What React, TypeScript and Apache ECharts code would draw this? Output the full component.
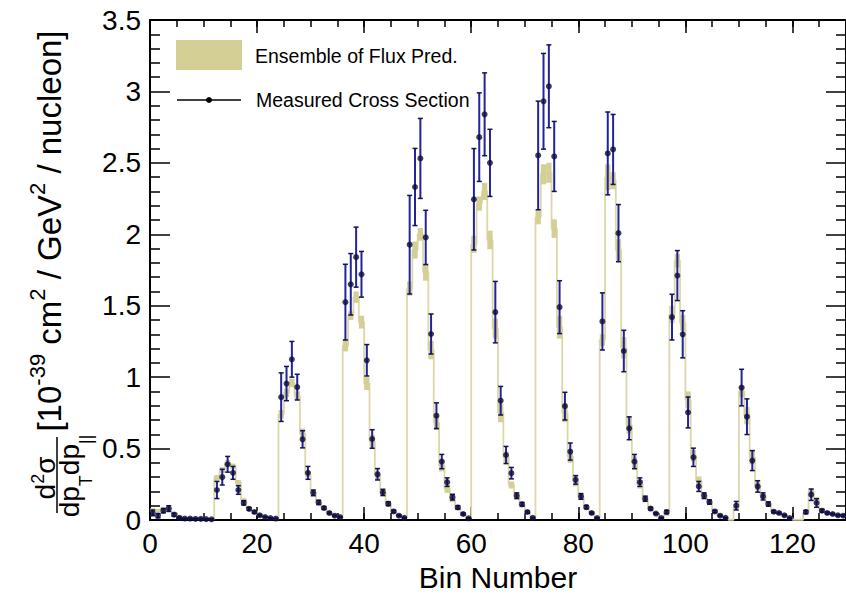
import React, { useEffect, useRef } from "react";
import * as echarts from "echarts";

// ---------------- data ----------------
const binCount = 130;

// Ensemble of flux predictions: central value per bin
const predCentral: number[] = [
  0.07, 0.065, 0.08, 0.08, 0.05, 0.025, 0.015, 0.012, 0.01, 0.008, 0.007, 0.006,
  0.295, 0.35, 0.4, 0.375, 0.26, 0.14, 0.085, 0.06, 0.035, 0.022, 0.015, 0.01,
  0.74, 0.89, 0.96, 0.87, 0.605, 0.32, 0.19, 0.12, 0.08, 0.05, 0.03, 0.018,
  1.22, 1.43, 1.56, 1.385, 0.955, 0.55, 0.31, 0.19, 0.115, 0.065, 0.035, 0.018,
  1.62, 1.89, 2.0, 1.735, 1.19, 0.68, 0.38, 0.22, 0.14, 0.08, 0.04, 0.015,
  1.93, 2.215, 2.3, 1.96, 1.34, 0.75, 0.44, 0.245, 0.16, 0.1, 0.05, 0.015,
  2.12, 2.42, 2.43, 2.04, 1.35, 0.75, 0.445, 0.275, 0.16, 0.095, 0.05, 0.015,
  1.26, 2.4, 2.375, 1.89, 1.205, 0.665, 0.4, 0.25, 0.14, 0.08, 0.045, 0.015,
  0.05, 1.44, 1.815, 1.38, 0.84, 0.45, 0.275, 0.17, 0.12, 0.06, 0.03, 0.015, 0.003,
  0.09, 0.9, 0.73, 0.44, 0.24, 0.17, 0.11, 0.06, 0.048, 0.032, 0.015, 0.003, 0.003,
  0.05, 0.2, 0.14, 0.07, 0.05, 0.042, 0.034, 0.03,
];

// Ensemble spread: half-height of the band per bin
const predHalfWidth: number[] = [
  0.012, 0.012, 0.012, 0.012, 0.008, 0.005, 0.003, 0.003, 0.002, 0.002, 0.002, 0.002,
  0.02, 0.02, 0.02, 0.02, 0.02, 0.012, 0.008, 0.006, 0.004, 0.003, 0.002, 0.002,
  0.03, 0.03, 0.03, 0.03, 0.035, 0.02, 0.015, 0.01, 0.008, 0.005, 0.004, 0.003,
  0.04, 0.03, 0.04, 0.045, 0.045, 0.045, 0.03, 0.02, 0.012, 0.008, 0.005, 0.003,
  0.05, 0.06, 0.045, 0.06, 0.065, 0.05, 0.04, 0.03, 0.015, 0.01, 0.006, 0.003,
  0.06, 0.05, 0.06, 0.065, 0.07, 0.065, 0.04, 0.025, 0.015, 0.01, 0.006, 0.003,
  0.05, 0.07, 0.07, 0.065, 0.08, 0.065, 0.045, 0.04, 0.02, 0.01, 0.006, 0.003,
  0.04, 0.09, 0.06, 0.075, 0.075, 0.06, 0.045, 0.03, 0.015, 0.01, 0.006, 0.003,
  0.02, 0.06, 0.047, 0.055, 0.06, 0.04, 0.03, 0.02, 0.012, 0.008, 0.004, 0.003, 0.001,
  0.02, 0.04, 0.06, 0.05, 0.03, 0.02, 0.012, 0.008, 0.006, 0.004, 0.003, 0.001, 0.001,
  0.01, 0.02, 0.02, 0.01, 0.006, 0.005, 0.004, 0.004,
];

// Measured cross section per bin (null: no point drawn)
const measValue: (number | null)[] = [
  0.05, 0.03, 0.065, 0.08, 0.037, 0.015, 0.01, 0.01, 0.008, 0.008, 0.006, 0.005,
  0.21, 0.3, 0.39, 0.33, 0.21, 0.12, 0.078, 0.056, 0.033, 0.021, 0.014, 0.01,
  0.86, 0.955, 1.125, 0.93, 0.565, 0.33, 0.19, 0.123, 0.084, 0.049, 0.03, 0.02,
  1.525, 1.65, 1.84, 1.72, 1.118, 0.567, 0.32, 0.193, 0.114, 0.06, 0.03, 0.015,
  1.927, 2.331, 2.531, 1.978, 1.302, 0.73, 0.409, 0.265, 0.16, 0.088, 0.042, 0.012,
  2.245, 2.68, 2.84, 2.5, 1.455, 0.835, 0.455, 0.328, 0.17, 0.11, 0.056, 0.015,
  2.552, 2.931, 3.036, 2.545, 1.49, 0.797, 0.479, 0.281, 0.165, 0.09, 0.049, 0.014,
  1.39, 2.566, 2.594, 2.008, 1.183, 0.642, 0.409, 0.265, 0.149, 0.08, 0.045, 0.014,
  0.056, 1.42, 1.711, 1.3, 0.753, 0.439, 0.235, 0.17, 0.126, 0.06, 0.03, 0.015, null,
  0.1, 0.927, 0.723, 0.416, 0.235, 0.165, 0.112, 0.058, 0.049, 0.033, 0.014, null, null,
  0.056, 0.177, 0.119, 0.065, 0.049, 0.042, 0.033, 0.03,
];

// Measured uncertainty per bin
const measError: (number | null)[] = [
  0.02, 0.015, 0.015, 0.02, 0.01, 0.006, 0.004, 0.004, 0.004, 0.004, 0.003, 0.003,
  0.06, 0.055, 0.055, 0.045, 0.03, 0.015, 0.01, 0.008, 0.006, 0.004, 0.003, 0.003,
  0.17, 0.12, 0.125, 0.09, 0.06, 0.045, 0.02, 0.015, 0.01, 0.007, 0.005, 0.004,
  0.265, 0.215, 0.21, 0.16, 0.11, 0.065, 0.04, 0.022, 0.014, 0.008, 0.005, 0.004,
  0.345, 0.27, 0.28, 0.19, 0.14, 0.09, 0.05, 0.03, 0.02, 0.012, 0.007, 0.004,
  0.355, 0.31, 0.29, 0.235, 0.215, 0.1, 0.06, 0.04, 0.02, 0.013, 0.008, 0.004,
  0.38, 0.335, 0.29, 0.245, 0.185, 0.097, 0.06, 0.03, 0.02, 0.012, 0.007, 0.004,
  0.2, 0.29, 0.245, 0.2, 0.145, 0.08, 0.05, 0.03, 0.018, 0.01, 0.006, 0.004,
  0.012, 0.16, 0.175, 0.165, 0.108, 0.064, 0.035, 0.02, 0.015, 0.008, 0.005, 0.004, null,
  0.03, 0.128, 0.125, 0.07, 0.04, 0.025, 0.015, 0.008, 0.006, 0.005, 0.004, null, null,
  0.012, 0.04, 0.03, 0.01, 0.007, 0.006, 0.005, 0.005,
];

const xMax = 130;
const xMajorStep = 20;
const xMinorStep = 5;
const yMax = 3.5;
const yMajorStep = 0.5;

const legendBandLabel = "Ensemble of Flux Pred.";
const legendDataLabel = "Measured Cross Section";
const xTitle = "Bin Number";

// ---------------- styles ----------------
const FONT = "'Liberation Sans', Arial, Helvetica, sans-serif";
const BAND = "#d4cf95";
const HIST_LINE = "#dcd8aa";
const ERR = "#23239a";
const CAP = "#14144e";
const MARK = "#0d0d3d";

export default function App() {
  const ref = useRef<HTMLDivElement>(null);

  useEffect(() => {
    if (!ref.current) return;
    const chart = echarts.init(ref.current, undefined, { renderer: "svg" });

    const stepData: number[][] = predCentral.map((p, i) => [i, p]);
    stepData.push([binCount, predCentral[binCount - 1]]);

    const bandData = predCentral.map((p, i) => [i, i + 1, p - predHalfWidth[i], p + predHalfWidth[i]]);

    const errData: number[][] = [];
    const pointData: number[][] = [];
    measValue.forEach((m, i) => {
      if (m == null) return;
      const e = measError[i] ?? 0;
      errData.push([i + 0.5, m - e, m + e]);
      pointData.push([i + 0.5, m]);
    });

    const axisLine = { show: true, onZero: false, lineStyle: { color: "#000", width: 2 } };
    const tickStyle = { color: "#000", width: 1.5 };

    const option: any = {
      animation: false,
      backgroundColor: "#fff",
      grid: { left: 150, right: -2, top: 20, bottom: 75, containLabel: false },
      xAxis: [
        {
          type: "value", position: "bottom", min: 0, max: xMax, interval: xMajorStep,
          axisLine, axisTick: { show: true, inside: true, length: 13, lineStyle: tickStyle },
          axisLabel: { fontSize: 28, color: "#000", fontFamily: FONT, margin: 9, showMaxLabel: false },
          splitLine: { show: false },
          name: xTitle, nameLocation: "middle", nameGap: 42,
          nameTextStyle: { fontSize: 30, color: "#000", fontFamily: FONT },
        },
        {
          type: "value", position: "bottom", min: 0, max: xMax, interval: xMinorStep,
          axisLine: { show: false, onZero: false }, axisTick: { show: true, inside: true, length: 7, lineStyle: tickStyle },
          axisLabel: { show: false }, splitLine: { show: false },
        },
        {
          type: "value", position: "top", min: 0, max: xMax, interval: xMajorStep,
          axisLine, axisTick: { show: true, inside: true, length: 13, lineStyle: tickStyle },
          axisLabel: { show: false }, splitLine: { show: false },
        },
        {
          type: "value", position: "top", min: 0, max: xMax, interval: xMinorStep,
          axisLine: { show: false, onZero: false }, axisTick: { show: true, inside: true, length: 7, lineStyle: tickStyle },
          axisLabel: { show: false }, splitLine: { show: false },
        },
      ],
      yAxis: [
        {
          type: "value", position: "left", min: 0, max: yMax, interval: yMajorStep,
          axisLine, axisTick: { show: true, inside: true, length: 20, lineStyle: tickStyle },
          minorTick: { show: true, splitNumber: 5, length: 10, lineStyle: tickStyle },
          axisLabel: { fontSize: 28, color: "#000", fontFamily: FONT, margin: 9 },
          splitLine: { show: false }, minorSplitLine: { show: false },
        },
        {
          type: "value", position: "right", min: 0, max: yMax, interval: yMajorStep,
          axisLine, axisTick: { show: true, inside: true, length: 20, lineStyle: tickStyle },
          minorTick: { show: true, splitNumber: 5, length: 10, lineStyle: tickStyle },
          axisLabel: { show: false }, splitLine: { show: false }, minorSplitLine: { show: false },
        },
      ],
      series: [
        {
          name: "histogram", type: "line", step: "end", xAxisIndex: 0, yAxisIndex: 0,
          data: stepData, symbol: "none", showSymbol: false,
          lineStyle: { color: HIST_LINE, width: 1.8 }, z: 1, silent: true,
        },
        {
          name: legendBandLabel, type: "custom", xAxisIndex: 0, yAxisIndex: 0,
          data: bandData, z: 2, silent: true,
          renderItem: (_p: any, api: any) => {
            const a = api.coord([api.value(0), api.value(3)]);
            const b = api.coord([api.value(1), api.value(2)]);
            return {
              type: "rect",
              shape: { x: a[0], y: a[1], width: b[0] - a[0], height: Math.max(b[1] - a[1], 1) },
              style: { fill: BAND },
            };
          },
        },
        {
          name: "errors", type: "custom", xAxisIndex: 0, yAxisIndex: 0,
          data: errData, z: 3, silent: true,
          renderItem: (_p: any, api: any) => {
            const top = api.coord([api.value(0), api.value(2)]);
            const bot = api.coord([api.value(0), api.value(1)]);
            const c = 2.5;
            return {
              type: "group",
              children: [
                { type: "line", shape: { x1: top[0], y1: top[1], x2: bot[0], y2: bot[1] }, style: { stroke: ERR, lineWidth: 2 } },
                { type: "line", shape: { x1: top[0] - c, y1: top[1], x2: top[0] + c, y2: top[1] }, style: { stroke: CAP, lineWidth: 1.5 } },
                { type: "line", shape: { x1: bot[0] - c, y1: bot[1], x2: bot[0] + c, y2: bot[1] }, style: { stroke: CAP, lineWidth: 1.5 } },
              ],
            };
          },
        },
        {
          name: legendDataLabel, type: "scatter", xAxisIndex: 0, yAxisIndex: 0,
          data: pointData, symbol: "circle", symbolSize: 6,
          itemStyle: { color: MARK }, z: 4, silent: true,
        },
      ],
      graphic: [
        // legend
        { type: "rect", shape: { x: 176, y: 40, width: 66, height: 30 }, style: { fill: BAND }, z: 10 },
        {
          type: "text", x: 255, y: 56, z: 10,
          style: { text: legendBandLabel, fontSize: 19.5, fontFamily: FONT, fill: "#000", textVerticalAlign: "middle", verticalAlign: "middle" },
        },
        { type: "line", shape: { x1: 177, y1: 100, x2: 241, y2: 100 }, style: { stroke: "#000", lineWidth: 1.5 }, z: 10 },
        { type: "circle", shape: { cx: 209, cy: 100, r: 3 }, style: { fill: "#000" }, z: 10 },
        {
          type: "text", x: 256, y: 100, z: 10,
          style: { text: legendDataLabel, fontSize: 19.5, fontFamily: FONT, fill: "#000", textVerticalAlign: "middle", verticalAlign: "middle" },
        },
        // y-axis title: fraction d²σ / dp_T dp_||
        {
          type: "text", x: 44, y: 478, rotation: Math.PI / 2, z: 10,
          style: {
            text: "{m|d}{s|2}{m|σ}",
            textAlign: "center", align: "center", textVerticalAlign: "middle", verticalAlign: "middle",
            fill: "#000",
            rich: {
              m: { fontSize: 28, fontFamily: FONT, lineHeight: 30, verticalAlign: "bottom", fill: "#000" },
              s: { fontSize: 18, fontFamily: FONT, lineHeight: 18, verticalAlign: "top", fill: "#000" },
            },
          },
        },
        { type: "line", shape: { x1: 57, y1: 437, x2: 57, y2: 513 }, style: { stroke: "#000", lineWidth: 1.5 }, z: 10 },
        {
          type: "text", x: 75, y: 476, rotation: Math.PI / 2, z: 10,
          style: {
            text: "{m|dp}{b|T}{m|dp}{b|||}",
            textAlign: "center", align: "center", textVerticalAlign: "middle", verticalAlign: "middle",
            fill: "#000",
            rich: {
              m: { fontSize: 28, fontFamily: FONT, lineHeight: 40, verticalAlign: "top", fill: "#000" },
              b: { fontSize: 18, fontFamily: FONT, lineHeight: 18, verticalAlign: "bottom", fill: "#000" },
            },
          },
        },
        {
          type: "text", x: 46, y: 231, rotation: Math.PI / 2, z: 10,
          style: {
            text: "{m|[10}{s|-39}{m| cm}{s|2}{m| / GeV}{s|2}{m| / nucleon]}",
            textAlign: "center", align: "center", textVerticalAlign: "middle", verticalAlign: "middle",
            fill: "#000",
            rich: {
              m: { fontSize: 33, fontFamily: FONT, lineHeight: 40, verticalAlign: "bottom", fill: "#000" },
              s: { fontSize: 22, fontFamily: FONT, lineHeight: 22, verticalAlign: "top", fill: "#000" },
            },
          },
        },
      ],
    };

    chart.setOption(option);
    return () => chart.dispose();
  }, []);

  return (
    <div
      ref={ref}
      style={{ position: "fixed", left: 0, top: 0, width: 846, height: 597, background: "#fff" }}
    />
  );
}
